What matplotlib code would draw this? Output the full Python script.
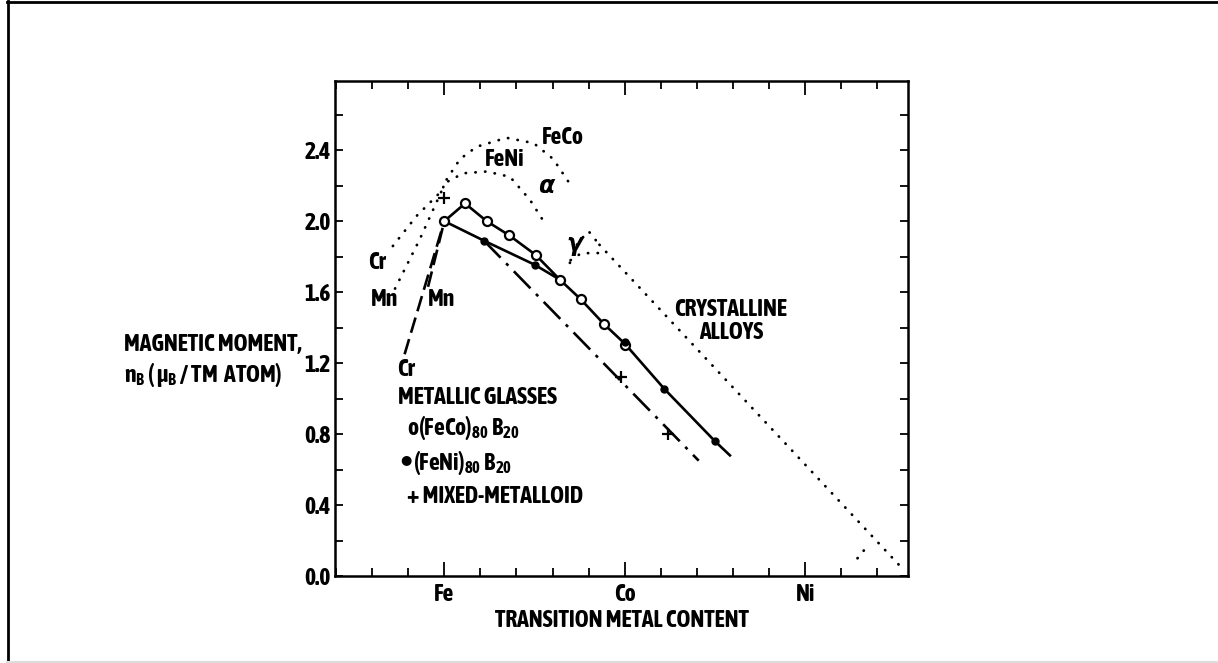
import matplotlib
matplotlib.use("Agg")
import matplotlib.pyplot as plt
from matplotlib import font_manager
from matplotlib.ticker import MultipleLocator, FixedLocator, FormatStrFormatter
from matplotlib.lines import Line2D
import numpy as np


def _is_bold(w):
    if isinstance(w, str):
        return w in ("bold", "heavy", "black", "demibold", "semibold", "extra bold")
    return w >= 600


def pick_narrow_font():
    """Prefer a condensed sans face that has a bold cut; fall back to DejaVu Sans."""
    fonts = font_manager.fontManager.ttflist
    narrow = sorted({f.name for f in fonts
                     if "Narrow" in f.name or "Condensed" in f.name})
    bold_narrow = [n for n in narrow
                   if any(f.name == n and _is_bold(f.weight) for f in fonts)]
    for pool in (bold_narrow, narrow):
        if pool:
            return pool[0]
    return "DejaVu Sans"


FAMILY = pick_narrow_font()
SIZE = 17.0 if FAMILY != "DejaVu Sans" else 12.5

plt.rcParams["font.family"] = [FAMILY, "DejaVu Sans"]
plt.rcParams["font.weight"] = "bold"
plt.rcParams["mathtext.fontset"] = "custom"
plt.rcParams["mathtext.rm"] = FAMILY + ":bold"
plt.rcParams["mathtext.it"] = FAMILY + ":italic:bold"
plt.rcParams["mathtext.bf"] = FAMILY + ":bold"

# x position: Fe = 0, Co = 1, Ni = 2 (transition metal content)
element_ticks = [0.0, 1.0, 2.0]
element_names = ["Fe", "Co", "Ni"]

# Metallic glasses, measured points
feco_x = [0.0, 0.115, 0.235, 0.36, 0.506, 0.641, 0.756, 0.885, 1.0]
feco_y = [2.00, 2.10, 2.00, 1.92, 1.81, 1.67, 1.56, 1.42, 1.30]
feni_x = [0.22, 0.50, 1.0, 1.22, 1.50]
feni_y = [1.89, 1.755, 1.32, 1.054, 0.76]
mixed_x = [0.0, 0.98, 1.24]
mixed_y = [2.13, 1.12, 0.80]

# Glass trend lines
glass_upper_x = [0.0, 0.115, 0.235, 0.36, 0.506, 0.641, 0.756, 0.885, 1.0, 1.22, 1.50, 1.583]
glass_upper_y = [2.00, 2.10, 2.00, 1.92, 1.81, 1.67, 1.56, 1.42, 1.31, 1.054, 0.76, 0.68]
glass_lower_x = [0.0, 0.22, 0.50, 0.641]
glass_lower_y = [2.00, 1.89, 1.755, 1.67]
mixed_line_x = [0.22, 1.41]
mixed_line_y = [1.89, 0.65]
cr_glass_x = [-0.22, 0.0]
cr_glass_y = [1.25, 2.00]
mn_glass_x = [-0.09, 0.0]
mn_glass_y = [1.63, 2.00]

# Crystalline alloys (Slater-Pauling curves)
cr_cryst_x = [-0.285, -0.153, -0.015, 0.013]
cr_cryst_y = [1.86, 2.03, 2.17, 2.235]
mn_cryst_x = [-0.273, -0.135, -0.015]
mn_cryst_y = [1.62, 1.90, 2.17]
feco_cryst_x = [0.013, 0.087, 0.18, 0.345, 0.495, 0.604, 0.696]
feco_cryst_y = [2.235, 2.35, 2.42, 2.47, 2.44, 2.35, 2.21]
feni_cryst_x = [0.022, 0.105, 0.235, 0.364, 0.475, 0.55]
feni_cryst_y = [2.225, 2.27, 2.28, 2.25, 2.12, 2.00]
gamma_hi_x = [0.696, 0.74, 0.80, 0.86]
gamma_hi_y = [1.765, 1.88, 1.943, 1.867]
gamma_lo_x = [0.70, 0.76, 0.845, 0.90]
gamma_lo_y = [1.78, 1.82, 1.82, 1.823]
gamma_tail_x = [0.86, 2.55]
gamma_tail_y = [1.867, 0.03]
ni_branch_x = [2.29, 2.33]
ni_branch_y = [0.10, 0.15]

fig = plt.figure(figsize=(12.18, 6.63), dpi=100)
ax = fig.add_axes([0.2750, 0.1312, 0.4705, 0.7466])
ax.set_xlim(-0.606, 2.57)
ax.set_ylim(0.0, 2.79)

dot = dict(color="black", lw=2.0, linestyle=(0, (0.1, 3.4)),
           dash_capstyle="round", solid_capstyle="round")
for xs, ys in [(cr_cryst_x, cr_cryst_y), (mn_cryst_x, mn_cryst_y),
               (feco_cryst_x, feco_cryst_y), (feni_cryst_x, feni_cryst_y),
               (gamma_hi_x, gamma_hi_y), (gamma_lo_x, gamma_lo_y),
               (gamma_tail_x, gamma_tail_y), (ni_branch_x, ni_branch_y)]:
    ax.plot(xs, ys, **dot)

ax.plot(glass_upper_x, glass_upper_y, color="black", lw=1.9)
ax.plot(glass_lower_x, glass_lower_y, color="black", lw=1.9)
ax.plot(mixed_line_x, mixed_line_y, color="black", lw=1.9,
        linestyle=(0, (9, 3, 1.2, 3)))
ax.plot(cr_glass_x, cr_glass_y, color="black", lw=1.9, linestyle=(0, (6, 2.5)))
ax.plot(mn_glass_x, mn_glass_y, color="black", lw=1.9, linestyle=(0, (6, 2.5)))

ax.plot(feco_x, feco_y, linestyle="none", marker="o", ms=6.5,
        mfc="white", mec="black", mew=1.6)
ax.plot(feni_x, feni_y, linestyle="none", marker="o", ms=5,
        mfc="black", mec="black")
ax.plot(mixed_x, mixed_y, linestyle="none", marker="+", ms=8,
        mec="black", mew=1.6)

# Axes styling
for s in ax.spines.values():
    s.set_linewidth(1.8)
ax.xaxis.set_major_locator(FixedLocator(element_ticks))
ax.set_xticklabels(element_names)
ax.xaxis.set_minor_locator(MultipleLocator(0.2))
ax.yaxis.set_major_locator(FixedLocator(np.arange(0.0, 2.41, 0.4)))
ax.yaxis.set_minor_locator(MultipleLocator(0.2))
ax.yaxis.set_major_formatter(FormatStrFormatter("%.1f"))
ax.tick_params(axis="both", which="both", direction="in", top=True, right=True,
               width=1.3, labelsize=SIZE)
ax.tick_params(axis="x", which="major", length=10, pad=5)
ax.tick_params(axis="x", which="minor", length=6)
ax.tick_params(axis="y", which="both", length=6, pad=3)

ax.set_xlabel("TRANSITION METAL CONTENT", fontsize=SIZE, fontweight="bold",
              labelpad=2)
fig.text(124 / 1218, 1 - 361 / 663,
         "MAGNETIC MOMENT,\nn$_\\mathregular{B}$ ( μ$_\\mathregular{B}$ / TM  ATOM)",
         ha="left", va="center", fontsize=SIZE, linespacing=1.25)

txt = dict(fontsize=SIZE, ha="center", va="center")
ax.text(0.658, 2.472, "FeCo", **txt)
ax.text(0.335, 2.348, "FeNi", **txt)
ax.text(0.566, 2.196, "α", fontsize=SIZE, style="italic", ha="center", va="center")
ax.text(0.724, 1.870, "γ", fontsize=SIZE, style="italic", ha="center", va="center")
ax.text(-0.373, 1.766, "Cr", **txt)
ax.text(-0.334, 1.558, "Mn", **txt)
ax.text(-0.016, 1.558, "Mn", **txt)
ax.text(-0.213, 1.163, "Cr", **txt)
ax.text(1.588, 1.439, "CRYSTALLINE\nALLOYS", fontsize=SIZE, ha="center",
        va="center", linespacing=1.0)

leg = dict(fontsize=SIZE, ha="left", va="center")
ax.text(-0.257, 1.005, "METALLIC GLASSES", **leg)
ax.text(-0.207, 0.835, "o(FeCo)$_{80}$ B$_{20}$", **leg)
feni_label = ax.text(-0.175, 0.638, "(FeNi)$_{80}$ B$_{20}$", **leg)
ax.annotate("●", xy=(0, 0.62), xycoords=feni_label, xytext=(-1, 0),
            textcoords="offset points", ha="right", va="center",
            fontsize=SIZE * 0.55, family="DejaVu Sans")
ax.text(-0.207, 0.448, "+ MIXED-METALLOID", **leg)

# Page frame
fig.add_artist(Line2D([7 / 1218, 1], [1 - 1.5 / 663, 1 - 1.5 / 663],
                      transform=fig.transFigure, color="black", lw=2))
fig.add_artist(Line2D([7.5 / 1218, 7.5 / 1218], [1 - 1 / 663, 2 / 663],
                      transform=fig.transFigure, color="black", lw=2))
fig.add_artist(Line2D([7 / 1218, 1], [1.5 / 663, 1.5 / 663],
                      transform=fig.transFigure, color="#dddddd", lw=1.5))

fig.savefig("out.png", dpi=100, facecolor="white")
